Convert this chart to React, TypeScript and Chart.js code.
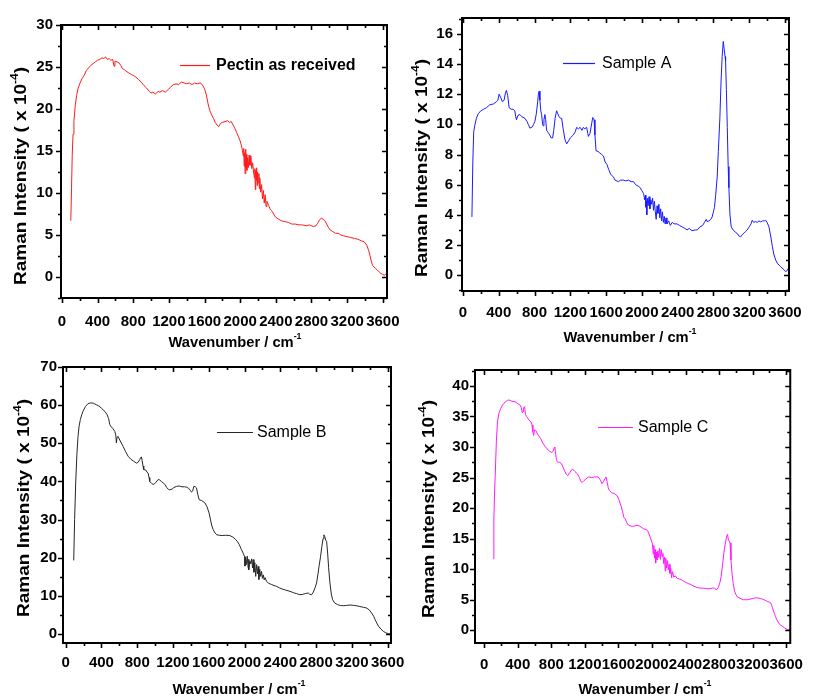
import React, { useEffect, useRef } from "react";
import { Chart, registerables } from "chart.js";

Chart.register(...registerables);

// ---------------- Data ----------------
const pectinWavenumber = [
  100, 108, 116, 125, 135, 150, 165, 180, 200, 225, 250, 275, 300, 325, 350, 375, 400, 425, 450, 470,
  490, 510, 530, 550, 570, 585, 595, 620, 640, 660, 680, 700, 720, 750, 780, 800, 830, 860, 890, 920,
  950, 980, 1000, 1020, 1050, 1080, 1100, 1130, 1160, 1190, 1220, 1250, 1280, 1310, 1340, 1370, 1400, 1430, 1460, 1490,
  1520, 1550, 1575, 1600, 1620, 1640, 1660, 1680, 1700, 1720, 1740, 1760, 1780, 1800, 1830, 1860, 1880, 1900, 1920, 1940,
  1960, 1980, 2000, 2015, 2025, 2035, 2040, 2045, 2050, 2055, 2060, 2065, 2070, 2075, 2080, 2090, 2100, 2110, 2120, 2130,
  2140, 2150, 2160, 2165, 2170, 2175, 2180, 2185, 2190, 2195, 2200, 2210, 2215, 2220, 2230, 2240, 2250, 2260, 2270, 2280,
  2290, 2300, 2320, 2340, 2360, 2380, 2400, 2430, 2460, 2500, 2540, 2580, 2620, 2660, 2700, 2740, 2780, 2820, 2850, 2870,
  2890, 2910, 2930, 2950, 2970, 2990, 3010, 3040, 3070, 3100, 3130, 3160, 3200, 3240, 3280, 3320, 3360, 3390, 3420, 3440,
  3455, 3470, 3485, 3500, 3520, 3540, 3560, 3580, 3600, 3620, 3635, 3645,
];
const pectinIntensity = [
  6.7, 10.5, 14.5, 17.0, 18.6, 20.4, 21.6, 22.4, 23.0, 23.6, 24.0, 24.6, 24.9, 25.2, 25.4, 25.6, 25.8, 25.9, 26.1, 26.0,
  26.2, 25.9, 26.0, 25.8, 25.9, 25.1, 25.7, 25.6, 25.5, 25.2, 24.8, 24.7, 24.5, 24.3, 24.1, 24.0, 23.8, 23.5, 23.2, 22.8,
  22.5, 22.1, 21.9, 22.0, 21.8, 22.1, 22.0, 22.2, 22.0, 22.3, 22.6, 22.9, 23.0, 22.9, 23.2, 23.1, 23.0, 23.1, 22.9, 23.1,
  23.0, 23.1, 22.9, 22.4, 21.7, 20.6, 19.8, 19.3, 18.9, 18.4, 18.1, 17.9, 18.3, 18.4, 18.5, 18.6, 18.4, 18.5, 18.1, 17.7,
  17.2, 16.7, 16.2, 15.6, 15.1, 14.4, 15.3, 13.2, 14.8, 12.3, 15.2, 13.0, 14.6, 12.7, 14.2, 13.0, 14.5, 13.3, 14.4, 12.9,
  13.6, 12.5, 11.8, 12.9, 10.4, 12.7, 11.5, 13.0, 10.9, 12.5, 11.2, 12.3, 10.5, 11.8, 10.1, 11.0, 9.3, 10.3, 8.8, 9.8,
  8.4, 9.0, 8.5, 8.0, 7.8, 7.4, 7.1, 6.9, 6.7, 6.6, 6.5, 6.3, 6.3, 6.2, 6.2, 6.1, 6.2, 6.0, 6.1, 6.4,
  6.8, 7.0, 6.9, 6.7, 6.3, 5.9, 5.6, 5.4, 5.2, 5.2, 5.0, 4.9, 4.8, 4.7, 4.6, 4.5, 4.3, 4.2, 3.8, 3.2,
  2.6, 1.9, 1.4, 1.2, 1.0, 0.8, 0.6, 0.4, 0.3, 0.2, 0.4, 0.3,
];

const sampleAWavenumber = [
  100, 110, 120, 131, 150, 170, 200, 230, 262, 300, 340, 374, 390, 404, 420, 441, 460, 475, 486, 500,
  516, 540, 560, 579, 590, 598, 615, 636, 660, 692, 715, 730, 748, 770, 790, 804, 820, 835, 845, 852,
  860, 870, 879, 890, 897, 905, 916, 925, 935, 953, 970, 985, 1002, 1015, 1030, 1047, 1060, 1075, 1090, 1103,
  1120, 1140, 1159, 1180, 1200, 1234, 1255, 1271, 1290, 1310, 1330, 1346, 1360, 1383, 1395, 1402, 1420, 1440, 1451, 1466,
  1475, 1488, 1510, 1530, 1550, 1570, 1590, 1608, 1630, 1650, 1683, 1700, 1739, 1760, 1795, 1820, 1850, 1880, 1907, 1930,
  1960, 1982, 2000, 2020, 2030, 2040, 2045, 2050, 2055, 2060, 2070, 2080, 2090, 2100, 2110, 2120, 2130, 2140, 2150, 2160,
  2170, 2180, 2190, 2200, 2210, 2220, 2230, 2240, 2250, 2260, 2270, 2280, 2300, 2318, 2340, 2360, 2393, 2420, 2450, 2480,
  2505, 2530, 2560, 2599, 2620, 2650, 2680, 2700, 2720, 2730, 2750, 2770, 2786, 2800, 2812, 2825, 2842, 2855, 2872, 2885,
  2898, 2910, 2920, 2930, 2936, 2945, 2955, 2965, 2973, 2985, 2999, 3020, 3045, 3067, 3085, 3104, 3125, 3145, 3160, 3178,
  3200, 3220, 3234, 3250, 3270, 3290, 3310, 3328, 3350, 3370, 3384, 3400, 3421, 3440, 3459, 3475, 3496, 3520, 3552, 3580,
  3608, 3625, 3638,
];
const sampleAIntensity = [
  3.86, 7.5, 9.5, 9.9, 10.4, 10.7, 10.9, 11.0, 11.1, 11.3, 11.35, 11.5, 11.6, 12.0, 11.8, 11.5, 11.6, 12.1, 12.25, 11.9,
  11.1, 11.0, 11.0, 10.9, 10.5, 10.3, 10.6, 10.65, 10.5, 10.4, 10.2, 10.0, 9.75, 9.8, 10.0, 10.2, 10.7, 11.5, 12.1, 12.2,
  11.6, 10.9, 10.65, 10.0, 9.9, 10.3, 10.65, 10.3, 9.6, 9.45, 9.3, 9.1, 9.1, 9.6, 10.4, 10.9, 10.7, 10.5, 10.4, 10.4,
  9.7, 9.0, 8.7, 8.9, 9.1, 9.3, 9.5, 9.8, 9.7, 9.8, 9.6, 9.8, 9.7, 9.8, 9.4, 9.2, 9.4, 10.1, 10.45, 10.3,
  9.3, 8.25, 8.2, 8.1, 8.0, 7.9, 7.5, 7.35, 7.0, 6.7, 6.5, 6.3, 6.2, 6.3, 6.3, 6.25, 6.3, 6.2, 6.2, 6.0,
  5.9, 5.8, 5.6, 5.4, 5.0, 5.3, 4.5, 4.9, 4.0, 5.1, 4.6, 5.2, 4.4, 5.0, 4.7, 5.1, 4.3, 4.9, 4.2, 3.7,
  4.6, 4.1, 4.7, 3.8, 4.4, 3.6, 4.2, 3.5, 3.9, 3.4, 3.8, 3.4, 3.6, 3.3, 3.5, 3.4, 3.4, 3.3, 3.2, 3.1,
  3.0, 3.1, 2.95, 3.0, 3.0, 3.2, 3.3, 3.5, 3.7, 3.55, 3.6, 3.7, 3.86, 4.2, 4.5, 5.3, 6.5, 8.2, 10.4, 12.8,
  14.5, 15.5, 15.0, 14.5, 14.2, 12.3, 9.8, 7.2, 5.8, 4.0, 3.2, 3.0, 2.85, 2.76, 2.6, 2.54, 2.7, 2.8, 2.9, 3.0,
  3.2, 3.4, 3.64, 3.5, 3.55, 3.5, 3.6, 3.53, 3.6, 3.6, 3.64, 3.5, 3.2, 2.6, 1.9, 1.4, 1.0, 0.75, 0.57, 0.4,
  0.24, 0.3, 0.46,
];

const sampleBWavenumber = [
  90, 100, 112, 125, 138, 150, 164, 180, 194, 220, 250, 280, 310, 343, 370, 400, 418, 440, 463, 480,
  493, 510, 530, 549, 560, 567, 575, 586, 610, 642, 670, 698, 730, 760, 791, 810, 828, 840, 847, 855,
  865, 873, 895, 910, 922, 932, 940, 960, 978, 995, 1010, 1034, 1050, 1070, 1090, 1110, 1130, 1150, 1164, 1190,
  1210, 1239, 1270, 1300, 1330, 1351, 1375, 1395, 1407, 1420, 1433, 1450, 1463, 1478, 1493, 1520, 1556, 1580, 1604, 1620,
  1635, 1649, 1670, 1690, 1716, 1750, 1790, 1836, 1870, 1900, 1918, 1940, 1966, 1985, 2000, 2005, 2010, 2020, 2030, 2040,
  2045, 2050, 2060, 2070, 2080, 2090, 2097, 2105, 2115, 2125, 2135, 2145, 2153, 2160, 2170, 2180, 2190, 2200, 2210, 2220,
  2230, 2246, 2270, 2300, 2330, 2358, 2390, 2420, 2460, 2507, 2550, 2580, 2619, 2650, 2680, 2713, 2730, 2750, 2770, 2790,
  2806, 2820, 2835, 2851, 2865, 2878, 2888, 2898, 2908, 2918, 2930, 2940, 2955, 2970, 2985, 3000, 3011, 3040, 3070, 3104,
  3140, 3180, 3220, 3254, 3290, 3330, 3366, 3395, 3422, 3445, 3460, 3478, 3500, 3525, 3552, 3580, 3608, 3630,
];
const sampleBIntensity = [
  19.3, 30.0, 39.6, 47.0, 51.8, 54.5, 56.2, 57.5, 58.4, 59.6, 60.4, 60.6, 60.5, 60.1, 59.8, 59.2, 58.8, 58.3, 57.5, 56.5,
  54.9, 54.3, 53.8, 53.1, 52.2, 50.1, 51.6, 51.8, 50.6, 49.2, 47.8, 46.6, 45.8, 45.3, 44.8, 45.0, 45.7, 46.3, 46.4, 45.5,
  44.0, 43.1, 43.0, 42.4, 42.2, 41.0, 40.0, 39.5, 39.2, 39.4, 39.8, 40.5, 40.4, 40.0, 39.6, 39.2, 38.4, 37.9, 37.8, 38.0,
  38.4, 38.7, 38.8, 38.6, 38.6, 38.5, 38.2, 37.6, 37.2, 37.5, 38.7, 38.6, 38.3, 36.5, 35.2, 35.0, 34.4, 33.4, 31.7, 29.9,
  28.3, 27.4, 26.5, 26.0, 25.9, 25.8, 25.9, 25.8, 25.4, 24.8, 24.3, 23.5, 22.1, 21.2, 20.3, 17.8, 20.1, 18.2, 20.4, 17.5,
  19.6, 16.8, 19.2, 18.4, 19.7, 17.3, 19.5, 16.2, 18.7, 15.1, 18.2, 15.8, 17.7, 14.3, 17.0, 15.1, 16.4, 14.6, 15.5, 14.2,
  14.8, 13.8, 13.3, 13.0, 12.7, 12.5, 12.1, 11.8, 11.5, 11.2, 10.8, 10.6, 10.3, 10.4, 10.6, 10.75, 10.4, 10.3, 11.0, 12.2,
  13.4, 15.5, 18.0, 20.4, 23.0, 25.0, 26.0, 25.5, 24.6, 24.3, 21.0, 17.5, 13.4, 10.5, 9.0, 8.4, 8.1, 7.7, 7.5, 7.4,
  7.5, 7.6, 7.5, 7.4, 7.2, 7.0, 6.8, 6.3, 5.5, 4.6, 3.8, 2.9, 2.0, 1.3, 0.7, 0.3, 0.1, 0.0,
];

const sampleCWavenumber = [
  109, 115, 122, 131, 145, 158, 175, 196, 220, 253, 275, 291, 310, 330, 368, 400, 425, 440, 455, 463,
  470, 482, 492, 505, 520, 540, 558, 570, 580, 589, 600, 615, 640, 672, 700, 725, 749, 780, 806, 825,
  835, 842, 850, 860, 870, 882, 900, 920, 940, 960, 980, 996, 1020, 1040, 1053, 1080, 1110, 1135, 1150, 1168,
  1190, 1215, 1245, 1280, 1320, 1358, 1385, 1404, 1420, 1440, 1453, 1465, 1478, 1491, 1520, 1550, 1587, 1610, 1630, 1650,
  1665, 1682, 1700, 1720, 1739, 1770, 1800, 1834, 1870, 1900, 1930, 1949, 1970, 1990, 2006, 2015, 2022, 2030, 2038, 2044,
  2052, 2060, 2070, 2080, 2090, 2101, 2110, 2120, 2130, 2140, 2150, 2158, 2165, 2175, 2185, 2195, 2205, 2215, 2225, 2234,
  2245, 2260, 2280, 2300, 2325, 2349, 2380, 2410, 2440, 2463, 2500, 2540, 2577, 2610, 2650, 2691, 2720, 2745, 2768, 2790,
  2810, 2825, 2840, 2852, 2863, 2880, 2893, 2901, 2912, 2922, 2931, 2942, 2955, 2969, 2985, 3000, 3015, 3040, 3070, 3090,
  3110, 3140, 3170, 3200, 3230, 3263, 3290, 3320, 3350, 3377, 3400, 3415, 3430, 3445, 3458, 3472, 3490, 3510, 3529, 3550,
  3580, 3605, 3630, 3645,
];
const sampleCIntensity = [
  11.7, 18.0, 22.0, 25.3, 31.0, 34.1, 35.5, 36.3, 36.9, 37.4, 37.6, 37.7, 37.6, 37.5, 37.4, 37.1, 36.9, 36.5, 35.6, 35.8,
  36.4, 36.6, 35.3, 35.0, 34.7, 34.3, 34.1, 33.6, 32.5, 31.9, 32.8, 32.7, 32.0, 31.4, 30.6, 30.1, 29.7, 29.3, 29.1, 29.4,
  29.9, 30.0, 29.0, 28.0, 27.6, 27.5, 27.5, 27.3, 26.7, 26.0, 25.5, 25.3, 25.8, 26.2, 26.4, 26.0, 25.6, 25.0, 24.4, 24.2,
  24.5, 24.8, 25.1, 25.0, 25.1, 25.1, 24.6, 24.0, 24.3, 24.8, 25.1, 24.3, 23.4, 22.9, 22.5, 22.4, 22.0, 21.2, 20.4, 19.4,
  18.5, 18.2, 17.6, 17.2, 17.1, 17.0, 17.1, 17.2, 16.9, 16.6, 16.5, 16.3, 15.6, 14.8, 14.1, 12.5, 13.9, 11.8, 13.2, 11.0,
  12.8, 11.5, 13.0, 11.9, 13.4, 11.6, 13.2, 12.1, 12.6, 10.9, 12.0, 9.7, 11.8, 10.2, 11.4, 9.9, 10.8, 9.3, 10.1, 8.6,
  9.6, 8.7, 8.9, 8.5, 8.4, 8.3, 8.0, 7.8, 7.6, 7.5, 7.2, 7.0, 6.9, 6.9, 6.8, 6.8, 6.9, 6.9, 6.6, 7.0,
  7.8, 8.8, 10.5, 12.0, 13.2, 14.6, 15.5, 15.7, 14.8, 14.6, 14.3, 11.5, 9.2, 7.7, 6.4, 5.9, 5.5, 5.3, 5.1, 5.0,
  5.0, 5.0, 5.1, 5.2, 5.3, 5.3, 5.2, 5.1, 4.9, 4.7, 4.6, 4.5, 4.0, 3.3, 2.8, 2.25, 1.7, 1.2, 0.9, 0.7,
  0.4, 0.2, 0.1, 0.1,
];

// tick labels
const wavenumberTicks = [0, 400, 800, 1200, 1600, 2000, 2400, 2800, 3200, 3600];
const pectinTicks = [0, 5, 10, 15, 20, 25, 30];
const sampleATicks = [0, 2, 4, 6, 8, 10, 12, 14, 16];
const sampleBTicks = [0, 10, 20, 30, 40, 50, 60, 70];
const sampleCTicks = [0, 5, 10, 15, 20, 25, 30, 35, 40];

const legendLabels = ["Pectin as received", "Sample A", "Sample B", "Sample C"];
const seriesColors = ["#ff1a1a", "#1a1aff", "#262626", "#ff1aff"];
const xAxisTitle: [string, boolean][] = [["Wavenumber / cm", false], ["-1", true]];
const yAxisTitle: [string, boolean][] = [["Raman Intensity ( x 10", false], ["-4", true], [")", false]];

// ---------------- Layout ----------------
const FONT = "'Liberation Sans', Arial, Helvetica, sans-serif";
const Y_BOX = 40;
const X_BOX = 40;

type Panel = {
  key: string;
  xs: number[];
  ys: number[];
  yTicks: number[];
  color: string;
  label: string;
  labelBold: boolean;
  frame: { l: number; t: number; r: number; b: number };
  xMin: number;
  xMax: number;
  yMin: number;
  yMax: number;
  xPad: number;
  yPad: number;
  yTitle: { x: number; y: number };
  xTitle: { x: number; y: number };
  legend: { x1: number; x2: number; y: number; tx: number };
};

const panels: Panel[] = [
  {
    key: "p1", xs: pectinWavenumber, ys: pectinIntensity, yTicks: pectinTicks, color: seriesColors[0], label: legendLabels[0], labelBold: true,
    frame: { l: 61, t: 25, r: 387, b: 298 }, xMin: -10, xMax: 3647, yMin: -2.5, yMax: 30,
    xPad: 15, yPad: 8, yTitle: { x: 22, y: 176 }, xTitle: { x: 235, y: 343 },
    legend: { x1: 180, x2: 210, y: 65, tx: 216 },
  },
  {
    key: "p2", xs: sampleAWavenumber, ys: sampleAIntensity, yTicks: sampleATicks, color: seriesColors[1], label: legendLabels[1], labelBold: false,
    frame: { l: 462, t: 16, r: 789, b: 291 }, xMin: -11, xMax: 3645, yMin: -1.05, yMax: 17.05,
    xPad: 13, yPad: 9, yTitle: { x: 423, y: 168 }, xTitle: { x: 630, y: 338 },
    legend: { x1: 563, x2: 595, y: 63, tx: 602 },
  },
  {
    key: "p3", xs: sampleBWavenumber, ys: sampleBIntensity, yTicks: sampleBTicks, color: seriesColors[2], label: legendLabels[2], labelBold: false,
    frame: { l: 63, t: 367, r: 391, b: 643 }, xMin: -30, xMax: 3638, yMin: -2.36, yMax: 70,
    xPad: 11, yPad: 6, yTitle: { x: 25, y: 508 }, xTitle: { x: 239, y: 690 },
    legend: { x1: 217, x2: 253, y: 432, tx: 257 },
  },
  {
    key: "p4", xs: sampleCWavenumber, ys: sampleCIntensity, yTicks: sampleCTicks, color: seriesColors[3], label: legendLabels[3], labelBold: false,
    frame: { l: 475, t: 370, r: 803, b: 643 }, xMin: -110, xMax: 3649, yMin: -2.08, yMax: 42.6,
    xPad: 13, yPad: 6, yTitle: { x: 430, y: 509 }, xTitle: { x: 645, y: 690 },
    legend: { x1: 598, x2: 633, y: 427, tx: 638 },
  },
];

function drawRich(
  ctx: CanvasRenderingContext2D,
  parts: [string, boolean][],
  size: number,
  cx: number,
  cy: number,
  rotate: boolean,
  targetWidth: number
) {
  const fMain = `bold ${size}px ${FONT}`;
  const supSize = Math.round(size * 0.62);
  const fSup = `bold ${supSize}px ${FONT}`;
  ctx.save();
  ctx.translate(cx, cy);
  if (rotate) ctx.rotate(-Math.PI / 2);
  let w = 0;
  for (const [t, sup] of parts) {
    ctx.font = sup ? fSup : fMain;
    w += ctx.measureText(t).width;
  }
  const s = targetWidth > 0 ? targetWidth / w : 1;
  ctx.scale(s, 1);
  ctx.fillStyle = "#000";
  ctx.textAlign = "left";
  ctx.textBaseline = "middle";
  let x = -w / 2;
  for (const [t, sup] of parts) {
    ctx.font = sup ? fSup : fMain;
    ctx.fillText(t, x, sup ? -size * 0.45 : 0);
    x += ctx.measureText(t).width;
  }
  ctx.restore();
}

function decorPlugin(p: Panel) {
  return {
    id: "decor_" + p.key,
    afterDraw(chart: any) {
      const ctx: CanvasRenderingContext2D = chart.ctx;
      const a = chart.chartArea;
      const sx = chart.scales.x;
      const sy = chart.scales.y;
      ctx.save();
      ctx.strokeStyle = "#000";
      ctx.lineWidth = 2;
      ctx.strokeRect(a.left, a.top, a.right - a.left, a.bottom - a.top);

      // x ticks: major at the tick labels, minor half-way between them
      const xStep = wavenumberTicks[1] - wavenumberTicks[0];
      ctx.lineWidth = 1.6;
      ctx.beginPath();
      for (const t of wavenumberTicks) {
        for (const [v, len] of [[t, 5], [t + xStep / 2, 3]] as [number, number][]) {
          if (v < p.xMin || v > p.xMax) continue;
          const px = Math.round(sx.getPixelForValue(v)) + 0.5;
          ctx.moveTo(px, a.bottom);
          ctx.lineTo(px, a.bottom + len);
          ctx.moveTo(px, a.top);
          ctx.lineTo(px, a.top + len);
        }
      }
      const yStep = p.yTicks[1] - p.yTicks[0];
      for (const t of p.yTicks) {
        for (const [v, len] of [[t - yStep / 2, 3], [t, 5], [t + yStep / 2, 3]] as [number, number][]) {
          if (v < p.yMin || v > p.yMax) continue;
          const py = Math.round(sy.getPixelForValue(v)) + 0.5;
          ctx.moveTo(a.left - len, py);
          ctx.lineTo(a.left, py);
          ctx.moveTo(a.right - len, py);
          ctx.lineTo(a.right, py);
        }
      }
      ctx.stroke();

      // axis titles
      drawRich(ctx, yAxisTitle, 16, p.yTitle.x, p.yTitle.y, true, 218);
      drawRich(ctx, xAxisTitle, 15, p.xTitle.x, p.xTitle.y, false, 133);

      // legend
      ctx.strokeStyle = p.color;
      ctx.lineWidth = 1.2;
      ctx.beginPath();
      ctx.moveTo(p.legend.x1, p.legend.y + 0.5);
      ctx.lineTo(p.legend.x2, p.legend.y + 0.5);
      ctx.stroke();
      ctx.fillStyle = "#000";
      ctx.font = `${p.labelBold ? "bold " : ""}16px ${FONT}`;
      ctx.textAlign = "left";
      ctx.textBaseline = "middle";
      ctx.fillText(p.label, p.legend.tx, p.legend.y + 1);
      ctx.restore();
    },
  };
}

function PanelChart({ p }: { p: Panel }) {
  const ref = useRef<HTMLCanvasElement>(null);
  useEffect(() => {
    const canvas = ref.current;
    if (!canvas) return;
    const tickFont = { family: FONT, size: 15, weight: "bold" as const };
    const chart = new Chart(canvas, {
      type: "line",
      data: {
        datasets: [
          {
            label: p.label,
            data: p.xs.map((x, i) => ({ x, y: p.ys[i] })),
            borderColor: p.color,
            borderWidth: 1,
            pointRadius: 0,
            tension: 0,
            fill: false,
          },
        ],
      },
      options: {
        responsive: false,
        animation: false,
        events: [],
        layout: {
          padding: {
            left: p.frame.l - Y_BOX,
            top: p.frame.t,
            right: 816 - p.frame.r,
            bottom: 700 - p.frame.b - X_BOX,
          },
        },
        plugins: { legend: { display: false }, tooltip: { enabled: false } },
        scales: {
          x: {
            type: "linear",
            bounds: "data",
            min: p.xMin,
            max: p.xMax,
            grid: { display: false, drawTicks: false },
            border: { display: false },
            afterBuildTicks: (s: any) => {
              s.ticks = wavenumberTicks.map((v) => ({ value: v }));
            },
            afterFit: (s: any) => {
              s.height = X_BOX;
            },
            ticks: {
              autoSkip: false,
              maxRotation: 0,
              minRotation: 0,
              padding: p.xPad,
              color: "#000",
              font: tickFont,
              callback: (v: any) => String(v),
            },
          },
          y: {
            type: "linear",
            bounds: "data",
            min: p.yMin,
            max: p.yMax,
            grid: { display: false, drawTicks: false },
            border: { display: false },
            afterBuildTicks: (s: any) => {
              s.ticks = p.yTicks.map((v) => ({ value: v }));
            },
            afterFit: (s: any) => {
              s.width = Y_BOX;
            },
            ticks: {
              autoSkip: false,
              padding: p.yPad,
              color: "#000",
              font: tickFont,
              callback: (v: any) => String(v),
            },
          },
        },
      },
      plugins: [decorPlugin(p)],
    } as any);
    return () => chart.destroy();
  }, [p]);
  return (
    <canvas
      ref={ref}
      width={816}
      height={700}
      style={{ position: "absolute", left: 0, top: 0, width: 816, height: 700 }}
    />
  );
}

export default function App() {
  return (
    <div style={{ position: "absolute", left: 0, top: 0, width: 816, height: 700, background: "#fff", overflow: "hidden" }}>
      {panels.map((p) => (
        <PanelChart key={p.key} p={p} />
      ))}
    </div>
  );
}
